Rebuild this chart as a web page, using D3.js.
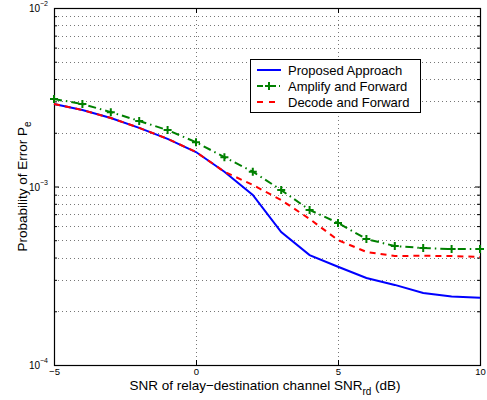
<!DOCTYPE html>
<html>
<head>
<meta charset="utf-8">
<script src="https://cdn.jsdelivr.net/npm/d3@7"></script>
<style>
  html, body { margin: 0; padding: 0; background: #fff; }
  svg { display: block; font-family: "Liberation Sans", Arial, Helvetica, sans-serif; }
</style>
</head>
<body>
<svg id="chart" width="487" height="400"></svg>
<script>
// SNR of relay-destination channel (dB)
const snr = [-5, -4, -3, -2, -1, 0, 1, 2, 3, 4, 5, 6, 7, 8, 9, 10];

// Probability of error for each scheme
const proposed = [2.90e-3, 2.68e-3, 2.42e-3, 2.13e-3, 1.85e-3, 1.56e-3, 1.21e-3, 8.96e-4,
                  5.55e-4, 4.13e-4, 3.55e-4, 3.07e-4, 2.81e-4, 2.53e-4, 2.42e-4, 2.38e-4];
const amplifyForward = [3.09e-3, 2.90e-3, 2.61e-3, 2.33e-3, 2.07e-3, 1.77e-3, 1.46e-3, 1.21e-3,
                        9.55e-4, 7.39e-4, 6.25e-4, 5.08e-4, 4.64e-4, 4.52e-4, 4.46e-4, 4.46e-4];
const decodeForward = [2.90e-3, 2.68e-3, 2.42e-3, 2.13e-3, 1.85e-3, 1.56e-3, 1.21e-3, 1.02e-3,
                       8.40e-4, 6.58e-4, 5.01e-4, 4.30e-4, 4.08e-4, 4.09e-4, 4.08e-4, 4.03e-4];

const seriesNames = ["Proposed Approach", "Amplify and Forward", "Decode and Forward"];
const xTicks = [-5, 0, 5, 10];
const yDecades = [-4, -3, -2];

const svg = d3.select("#chart");
const pLeft = 54, pRight = 480, pTop = 8, pBottom = 365;

const x = d3.scaleLinear().domain([-5, 10]).range([pLeft, pRight]);
const y = d3.scaleLog().domain([1e-4, 1e-2]).range([pBottom, pTop]);

// minor (2..9) and major log ticks
const yAll = [];
for (let d = -4; d <= -2; d++) {
  for (let m = 1; m <= 9; m++) {
    const v = m * Math.pow(10, d);
    if (v <= 1e-2 + 1e-12) yAll.push({ v, major: m === 1 });
  }
}

// grid
const grid = svg.append("g").attr("stroke", "#777").attr("stroke-width", 1)
  .attr("stroke-dasharray", "1,3");
grid.selectAll("line.h").data(yAll.filter(d => d.v > 1e-4 * 1.01 && d.v < 1e-2 * 0.99)).join("line")
  .attr("x1", pLeft).attr("x2", pRight)
  .attr("y1", d => Math.round(y(d.v)) + 0.5).attr("y2", d => Math.round(y(d.v)) + 0.5);
grid.selectAll("line.v").data(xTicks.filter(t => t > -5 && t < 10)).join("line")
  .attr("y1", pTop).attr("y2", pBottom)
  .attr("x1", d => Math.round(x(d)) + 0.5).attr("x2", d => Math.round(x(d)) + 0.5);

// axes via d3 axis generators, ticks drawn inwards
const fmtNone = () => "";
const xAxisB = d3.axisBottom(x).tickValues(xTicks).tickSizeInner(-5).tickSizeOuter(0).tickPadding(3)
  .tickFormat(d => d < 0 ? "\u2212" + Math.abs(d) : d);
const gx = svg.append("g").attr("transform", `translate(0,${pBottom})`).call(xAxisB);
gx.selectAll("text").attr("font-size", 9.5).attr("fill", "#000").attr("font-family", "Liberation Sans, Arial, sans-serif");

const xAxisT = d3.axisTop(x).tickValues(xTicks).tickSizeInner(-5).tickSizeOuter(0).tickFormat(fmtNone);
svg.append("g").attr("transform", `translate(0,${pTop})`).call(xAxisT);

const yMajor = yAll.filter(d => d.major).map(d => d.v);
const yMinor = yAll.filter(d => !d.major).map(d => d.v);
const yAxisL = d3.axisLeft(y).tickValues(yMajor).tickSizeInner(-5).tickSizeOuter(0).tickFormat(fmtNone);
svg.append("g").attr("transform", `translate(${pLeft},0)`).call(yAxisL);
const yAxisLm = d3.axisLeft(y).tickValues(yMinor).tickSizeInner(-3).tickSizeOuter(0).tickFormat(fmtNone);
svg.append("g").attr("transform", `translate(${pLeft},0)`).call(yAxisLm);
const yAxisR = d3.axisRight(y).tickValues(yMajor).tickSizeInner(-5).tickSizeOuter(0).tickFormat(fmtNone);
svg.append("g").attr("transform", `translate(${pRight},0)`).call(yAxisR);
const yAxisRm = d3.axisRight(y).tickValues(yMinor).tickSizeInner(-3).tickSizeOuter(0).tickFormat(fmtNone);
svg.append("g").attr("transform", `translate(${pRight},0)`).call(yAxisRm);
svg.selectAll(".domain").remove();
svg.selectAll(".tick line").attr("stroke", "#000");

// plot box
svg.append("rect").attr("x", pLeft + 0.5).attr("y", pTop + 0.5)
  .attr("width", pRight - pLeft).attr("height", pBottom - pTop)
  .attr("fill", "none").attr("stroke", "#000").attr("stroke-width", 1.2);

// y decade labels 10^n
const yl = svg.append("g").attr("font-size", 10).attr("fill", "#000");
yDecades.forEach(dexp => {
  const t = yl.append("text").attr("x", pLeft - 6).attr("y", y(Math.pow(10, dexp)) + 4)
    .attr("text-anchor", "end");
  t.append("tspan").text("10");
  t.append("tspan").attr("dy", -6).attr("font-size", 7).text("\u2212" + Math.abs(dexp));
});

// axis titles
svg.append("text").attr("x", (pLeft + pRight) / 2 - 2).attr("y", 390)
  .attr("text-anchor", "middle").attr("font-size", 13.5)
  .call(t => {
    t.append("tspan").text("SNR of relay\u2212destination channel SNR");
    t.append("tspan").attr("dy", 5).attr("font-size", 10).text("rd");
    t.append("tspan").attr("dy", -5).text(" (dB)");
  });

svg.append("text").attr("transform", `translate(27,${(pTop + pBottom) / 2}) rotate(-90)`)
  .attr("text-anchor", "middle").attr("font-size", 13.5)
  .call(t => {
    t.append("tspan").text("Probability of Error P");
    t.append("tspan").attr("dy", 4).attr("font-size", 10).text("e");
  });

// curves
const line = d3.line().x((d, i) => x(snr[i])).y(d => y(d));
const plot = svg.append("g");
const styles = [
  { data: proposed, color: "#0000ff", dash: null },
  { data: amplifyForward, color: "#008000", dash: "8,4,1.5,4" },
  { data: decodeForward, color: "#ff0000", dash: "6,5" }
];
styles.forEach(s => {
  plot.append("path").datum(s.data).attr("d", line)
    .attr("fill", "none").attr("stroke", s.color).attr("stroke-width", 2)
    .attr("stroke-dasharray", s.dash);
});
// "+" markers on Amplify and Forward
const mk = 4;
plot.append("g").selectAll("path").data(amplifyForward).join("path")
  .attr("d", (d, i) => {
    const cx = x(snr[i]), cy = y(d);
    return `M${cx - mk},${cy}H${cx + mk}M${cx},${cy - mk}V${cy + mk}`;
  })
  .attr("stroke", "#008000").attr("stroke-width", 2).attr("fill", "none");

// legend
const lg = svg.append("g");
lg.append("rect").attr("x", 250.5).attr("y", 59.5).attr("width", 170).attr("height", 53)
  .attr("fill", "#fff").attr("stroke", "#000").attr("stroke-width", 1);
const rowsY = [70, 86, 102];
styles.forEach((s, i) => {
  lg.append("line").attr("x1", 257).attr("x2", 281).attr("y1", rowsY[i]).attr("y2", rowsY[i])
    .attr("stroke", s.color).attr("stroke-width", 2)
    .attr("stroke-dasharray", i === 1 ? "6,3,1,3" : (i === 2 ? "6,6" : null));
  if (i === 1) {
    lg.append("path").attr("d", `M${269 - mk},${rowsY[i]}H${269 + mk}M269,${rowsY[i] - mk}V${rowsY[i] + mk}`)
      .attr("stroke", "#008000").attr("stroke-width", 2);
  }
  lg.append("text").attr("x", 288).attr("y", rowsY[i] + 4.5).attr("font-size", 13)
    .text(seriesNames[i]);
});
</script>
</body>
</html>
